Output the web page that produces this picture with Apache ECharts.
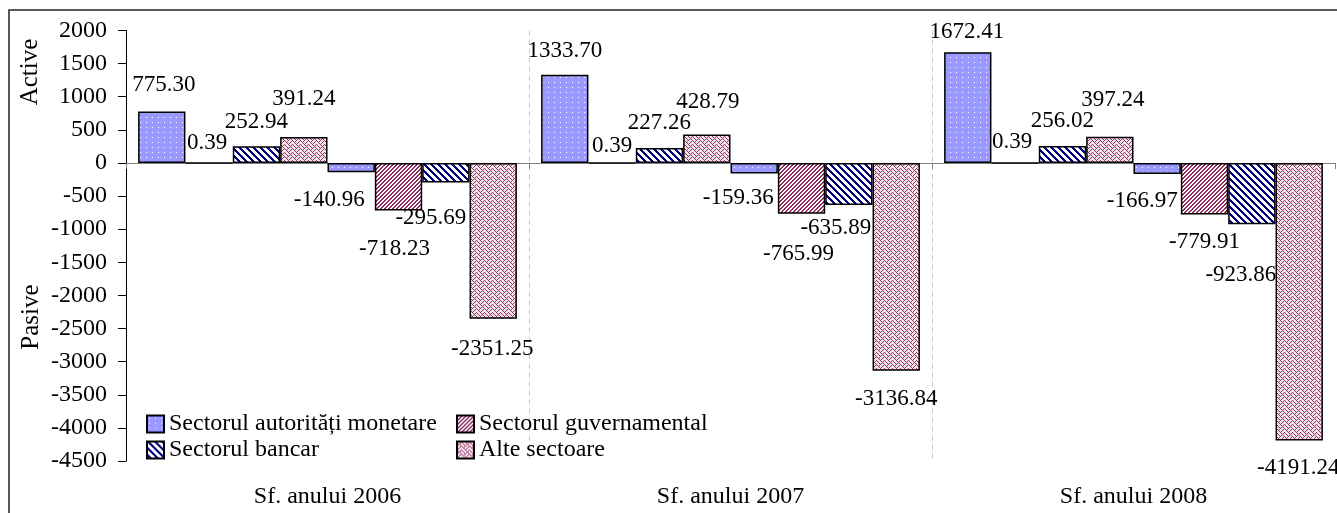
<!DOCTYPE html>
<html>
<head>
<meta charset="utf-8">
<script src="https://cdn.jsdelivr.net/npm/echarts@6/dist/echarts.min.js"></script>
<style>
  html, body { margin: 0; padding: 0; background: #fff; }
  #chart { width: 1337px; height: 513px; }
</style>
</head>
<body>
<div id="chart"></div>
<script>
// date: active si pasive pe sectoare
const categories = ['Sf. anului 2006', 'Sf. anului 2007', 'Sf. anului 2008'];
const sectors = ['Sectorul autorități monetare', 'Sectorul guvernamental', 'Sectorul bancar', 'Alte sectoare'];

const activeMonetare = [775.30, 1333.70, 1672.41];
const activeGuvernamental = [0.39, 0.39, 0.39];
const activeBancar = [252.94, 227.26, 256.02];
const activeAlte = [391.24, 428.79, 397.24];

const pasiveMonetare = [-140.96, -159.36, -166.97];
const pasiveGuvernamental = [-718.23, -765.99, -779.91];
const pasiveBancar = [-295.69, -635.89, -923.86];
const pasiveAlte = [-2351.25, -3136.84, -4191.24];

const yMin = -4500, yMax = 2000, yStep = 500;

// pozitia etichetelor: [dx, distanta fata de capatul barei]
const labelNudge = [
    [[2, 27], [0, 24], [-1, 20]],
    [[-2, 19], [0, 16], [-3, 20]],
    [[0, 24], [0, 25], [0, 25]],
    [[0, 38], [1, 33], [3, 37]],
    [[-22, 28], [-16, 24], [-15, 27]],
    [[-4, 38], [-3, 40], [0, 27]],
    [[-15, 35], [-13, 23], [-11, 51]],
    [[-1, 30], [0, 28], [-1, 27]]
];

const FONT = '"Liberation Serif", "Times New Roman", serif';

function makePattern(size, bg, fg, test) {
    const c = document.createElement('canvas');
    c.width = size[0];
    c.height = size[1];
    const ctx = c.getContext('2d');
    ctx.fillStyle = bg;
    ctx.fillRect(0, 0, size[0], size[1]);
    ctx.fillStyle = fg;
    for (let y = 0; y < size[1]; y++) {
        for (let x = 0; x < size[0]; x++) {
            if (test(x, y)) ctx.fillRect(x, y, 1, 1);
        }
    }
    return { image: c, repeat: 'repeat' };
}

const alteRows = [
    'X...X...',
    '.X.X.X..',
    '..X...X.',
    '.X.X...X',
    'X...X...',
    '...X.X.X',
    '..X...X.',
    '.X.....X'
];

const fills = [
    makePattern([6, 5], '#9999FF', '#FFFFFF', (x, y) => x === 2 && y === 2),
    makePattern([4, 4], '#FFFFFF', '#8E2C5E', (x, y) => (x + y) % 4 < 2),
    makePattern([7, 7], '#FFFFFF', '#000080', (x, y) => ((x - y) % 7 + 7) % 7 < 3),
    makePattern([8, 8], '#F4E4EC', '#993366', (x, y) => alteRows[y][x] === 'X')
];

const seriesData = [
    activeMonetare, activeGuvernamental, activeBancar, activeAlte,
    pasiveMonetare, pasiveGuvernamental, pasiveBancar, pasiveAlte
];

const series = seriesData.map((vals, i) => {
    const k = i % 4;
    const positive = i < 4;
    return {
        name: sectors[k],
        type: 'bar',
        barGap: '0%',
        barCategoryGap: '6%',
        itemStyle: { color: fills[k], borderColor: '#000', borderWidth: 1.5 },
        label: {
            show: true,
            position: positive ? 'top' : 'bottom',
            distance: 0,
            color: '#000',
            fontFamily: FONT,
            fontSize: 23,
            formatter: p => p.value.toFixed(2)
        },
        data: vals.map((v, j) => {
            const n = labelNudge[i][j];
            const dy = n[1] - 11.5;
            return { value: v, label: { offset: [n[0], positive ? -dy : dy] } };
        })
    };
});

const chart = echarts.init(document.getElementById('chart'));

const legendBase = {
    orient: 'vertical',
    top: 412,
    itemWidth: 17,
    itemHeight: 17,
    itemGap: 2,
    padding: 0,
    icon: 'rect',
    itemStyle: { borderColor: '#000', borderWidth: 2 },
    textStyle: { fontFamily: FONT, fontSize: 24, color: '#000', lineHeight: 20 }
};

const option = {
    animation: false,
    backgroundColor: '#fff',
    grid: { left: 126, right: 2, top: 30.5, bottom: 52, containLabel: false },
    legend: [
        Object.assign({ data: [sectors[0], sectors[2]], left: 146 }, legendBase),
        Object.assign({ data: [sectors[1], sectors[3]], left: 456 }, legendBase)
    ],
    xAxis: [
        {
            type: 'category',
            data: categories,
            position: 'bottom',
            axisLine: { onZero: true, lineStyle: { color: '#808080', width: 1 } },
            axisTick: { show: true, length: 6, lineStyle: { color: '#808080' } },
            axisLabel: { show: false },
            splitLine: {
                show: true,
                showMinLine: false,
                showMaxLine: false,
                lineStyle: { color: '#C8C8C8', type: [5, 4], width: 1 }
            }
        },
        {
            type: 'category',
            data: categories,
            position: 'bottom',
            axisLine: { show: false },
            axisTick: { show: false },
            splitLine: { show: false },
            axisLabel: { fontFamily: FONT, fontSize: 24, color: '#000', margin: 24 }
        }
    ],
    yAxis: {
        type: 'value',
        min: yMin,
        max: yMax,
        interval: yStep,
        axisLine: { show: true, lineStyle: { color: '#000', width: 1 } },
        axisTick: { show: true, length: 8, lineStyle: { color: '#000' } },
        axisLabel: {
            fontFamily: FONT, fontSize: 24, color: '#000', margin: 19,
            formatter: v => String(v)
        },
        splitLine: { show: false }
    },
    graphic: [
        {
            type: 'rect',
            silent: true,
            shape: { x: 9, y: 10, width: 1400, height: 600 },
            style: { fill: 'none', stroke: '#222', lineWidth: 1.5 }
        },
        {
            type: 'text',
            x: 30,
            y: 72,
            rotation: Math.PI / 2,
            style: { text: 'Active', fontFamily: FONT, fontSize: 25, fill: '#000', align: 'center', verticalAlign: 'middle' }
        },
        {
            type: 'text',
            x: 31,
            y: 317,
            rotation: Math.PI / 2,
            style: { text: 'Pasive', fontFamily: FONT, fontSize: 25, fill: '#000', align: 'center', verticalAlign: 'middle' }
        }
    ],
    series: series
};

chart.setOption(option);
window.addEventListener('resize', () => chart.resize());
</script>
</body>
</html>
